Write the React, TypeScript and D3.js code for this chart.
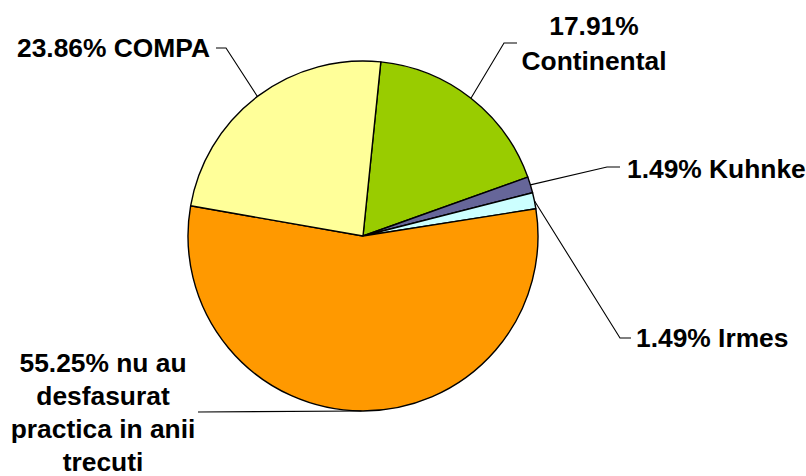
import React, { useEffect, useRef } from 'react';
import * as d3 from 'd3';

// slice data, clockwise from the top
const names = ['Continental', 'Kuhnke', 'Irmes', 'nu au desfasurat practica in anii trecuti', 'COMPA'];
const values = [17.91, 1.49, 1.49, 55.25, 23.86];
const colors = ['#99CC00', '#666699', '#CCFFFF', '#FF9900', '#FFFF99'];
const labelLines = [
    ['17.91%', 'Continental'],
    ['1.49% Kuhnke'],
    ['1.49% Irmes'],
    ['55.25% nu au', 'desfasurat', 'practica in anii', 'trecuti'],
    ['23.86% COMPA'],
];

const W = 806;
const H = 476;

const App = () => {
    const svgRef = useRef<SVGSVGElement>(null);

    useEffect(() => {
        const svg = d3.select(svgRef.current);
        svg.selectAll('*').remove();

        const cx = 363;
        const cy = 236;
        const r = 175;
        const start = 0.102;

        const pie = d3.pie<number>().sort(null).value(d => d)
            .startAngle(start).endAngle(start + Math.PI * 2);
        const arcs = pie(values);

        const arc = d3.arc<d3.PieArcDatum<number>>().innerRadius(0).outerRadius(r);
        const edge = d3.arc<d3.PieArcDatum<number>>().innerRadius(r).outerRadius(r);

        const g = svg.append('g').attr('transform', `translate(${cx},${cy})`);

        g.selectAll('path')
            .data(arcs)
            .join('path')
            .attr('d', arc)
            .attr('fill', (d, i) => colors[i])
            .attr('stroke', '#000')
            .attr('stroke-width', 1.4)
            .attr('stroke-linejoin', 'round');

        // label layout: elbow point, horizontal end, text anchor (page coords)
        const layout = [
            { elbow: [504, 43], end: [517, 43], tx: 594, ty: 35, anchor: 'middle' },
            { elbow: [607, 167], end: [620, 167], tx: 627, ty: 178, anchor: 'start' },
            { elbow: [620, 338], end: [631, 338], tx: 636, ty: 347, anchor: 'start' },
            { elbow: [198, 412], end: [198, 412], tx: 103, ty: 372, anchor: 'middle' },
            { elbow: [226, 48], end: [216, 48], tx: 17, ty: 57, anchor: 'start' },
        ];

        const lab = svg.append('g');
        arcs.forEach((d, i) => {
            const [ex, ey] = edge.centroid(d);
            const L = layout[i];
            lab.append('polyline')
                .attr('points', [[cx + ex, cy + ey], L.elbow, L.end].map(p => p.join(',')).join(' '))
                .attr('fill', 'none')
                .attr('stroke', '#000')
                .attr('stroke-width', 1.1);

            const t = lab.append('text')
                .attr('transform', `translate(${L.tx},${L.ty}) scale(1.055,1)`)
                .attr('text-anchor', L.anchor)
                .attr('font-family', '"Liberation Sans", Arial, sans-serif')
                .attr('font-weight', 'bold')
                .attr('font-size', 25)
                .attr('fill', '#000');
            labelLines[i].forEach((s, j) => {
                t.append('tspan')
                    .attr('x', 0)
                    .attr('dy', j === 0 ? 0 : (i === 0 ? 35 : 33))
                    .text(s);
            });
        });
    }, []);

    return (
        <div style={{ position: 'absolute', left: 0, top: 0 }}>
            <svg ref={svgRef} width={W} height={H} style={{ display: 'block', background: '#fff' }} />
        </div>
    );
};

export default App;
